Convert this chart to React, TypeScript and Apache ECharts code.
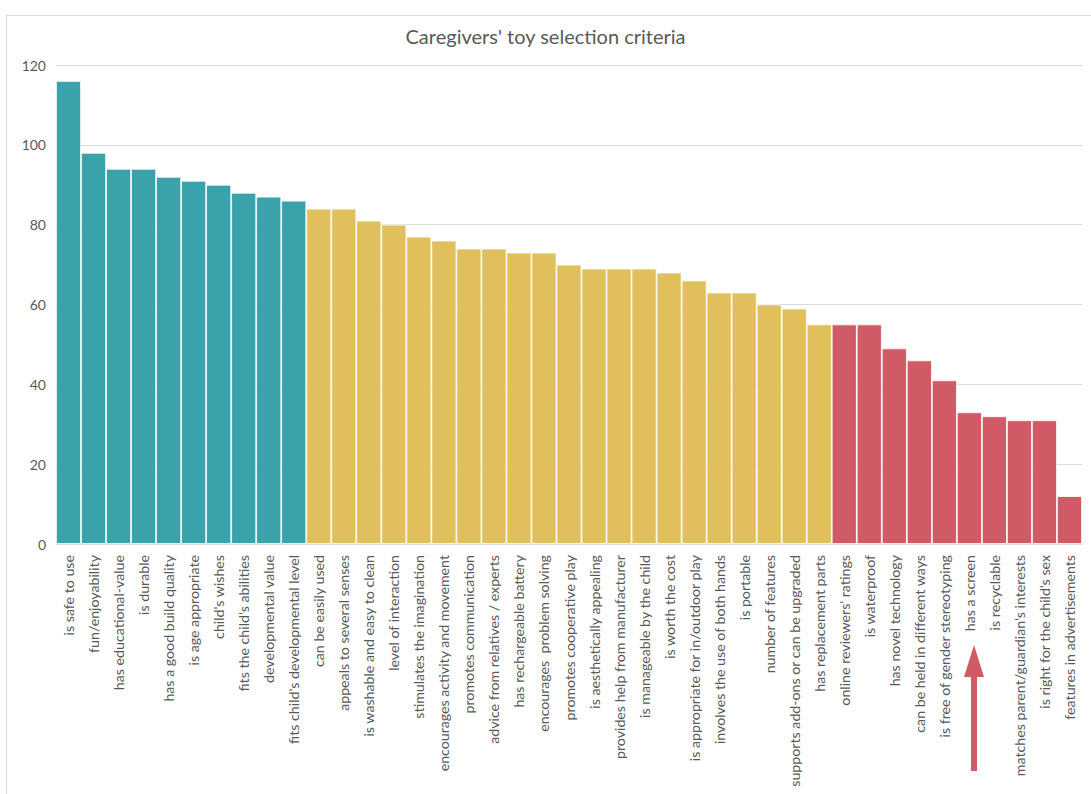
import React, { useEffect, useRef } from "react";
import * as echarts from "echarts";

const categories = [
  "is safe to use", "fun/enjoyability", "has educational-value", "is durable",
  "has a good build quality", "is age appropriate", "child's wishes",
  "fits the child's abilities", "developmental value", "fits child's developmental level",
  "can be easily used", "appeals to several senses", "is washable and easy to clean",
  "level of interaction", "stimulates the imagination", "encourages activity and movement",
  "promotes communication", "advice from relatives / experts", "has rechargeable battery",
  "encourages  problem solving", "promotes cooperative play", "is aesthetically appealing",
  "provides help from manufacturer", "is manageable by the child", "is worth the cost",
  "is appropriate for in/outdoor play", "involves the use of both hands", "is portable",
  "number of features", "supports add-ons or can be upgraded", "has replacement parts",
  "online reviewers' ratings", "is waterproof", "has novel technology",
  "can be held in different ways", "is free of gender stereotyping", "has a screen",
  "is recyclable", "matches parent/guardian's interests", "is right for the child's sex",
  "features in advertisements",
];

const values = [
  116, 98, 94, 94, 92, 91, 90, 88, 87, 86,
  84, 84, 81, 80, 77, 76, 74, 74, 73, 73, 70, 69, 69, 69, 68, 66, 63, 63, 60, 59, 55,
  55, 55, 49, 46, 41, 33, 32, 31, 31, 12,
];

// 0 = teal, 1 = yellow, 2 = red
const groups = [
  0, 0, 0, 0, 0, 0, 0, 0, 0, 0,
  1, 1, 1, 1, 1, 1, 1, 1, 1, 1, 1, 1, 1, 1, 1, 1, 1, 1, 1, 1, 1,
  2, 2, 2, 2, 2, 2, 2, 2, 2, 2,
];

const groupColors = ["#3AA2AA", "#E1BF5D", "#D05A66"];

const yTicks = { min: 0, max: 120, interval: 20 };

export default function App() {
  const ref = useRef<HTMLDivElement>(null);

  useEffect(() => {
    if (!ref.current) return;
    const chart = echarts.init(ref.current, null, { renderer: "svg" });
    const font = "Lato, 'Open Sans', sans-serif";
    chart.setOption({
      animation: false,
      backgroundColor: "#ffffff",
      title: {
        text: "Caregivers' toy selection criteria",
        left: "center",
        top: 21,
        textStyle: { fontFamily: font, fontSize: 20, fontWeight: "normal", color: "#595959" },
      },
      grid: { left: 56, right: 9, top: 65, bottom: 250, containLabel: false },
      xAxis: {
        type: "category",
        data: categories,
        axisTick: { show: false },
        axisLine: { show: true, lineStyle: { color: "#d9d9d9", width: 1 } },
        axisLabel: {
          rotate: 90,
          interval: 0,
          margin: 11,
          fontFamily: font,
          fontSize: 14.2,
          color: "#595959",
        },
      },
      yAxis: {
        type: "value",
        min: yTicks.min,
        max: yTicks.max,
        interval: yTicks.interval,
        axisLine: { show: false },
        axisTick: { show: false },
        axisLabel: { fontFamily: font, fontSize: 14, color: "#595959", margin: 10 },
        splitLine: { lineStyle: { color: "#d9d9d9", width: 1 } },
      },
      series: [
        {
          type: "bar",
          barCategoryGap: "0%",
          data: values.map((v, i) => ({
            value: v,
            itemStyle: { color: groupColors[groups[i]] },
          })),
          itemStyle: { borderColor: "#ffffff", borderWidth: 0.8 },
        },
      ],
      graphic: [
        {
          type: "rect",
          shape: { x: 6.5, y: 15.5, width: 1200, height: 900 },
          style: { fill: "none", stroke: "#d9d9d9", lineWidth: 1 },
          silent: true,
        },
        {
          type: "polygon",
          shape: {
            points: [
              [971, 771], [971, 677], [964, 677], [974, 645],
              [984, 677], [977, 677], [977, 771],
            ],
          },
          style: { fill: "#D05A66" },
          silent: true,
        },
      ],
    });
    return () => chart.dispose();
  }, []);

  return (
    <div
      ref={ref}
      style={{ position: "fixed", left: 0, top: 0, width: 1091, height: 794 }}
    />
  );
}
